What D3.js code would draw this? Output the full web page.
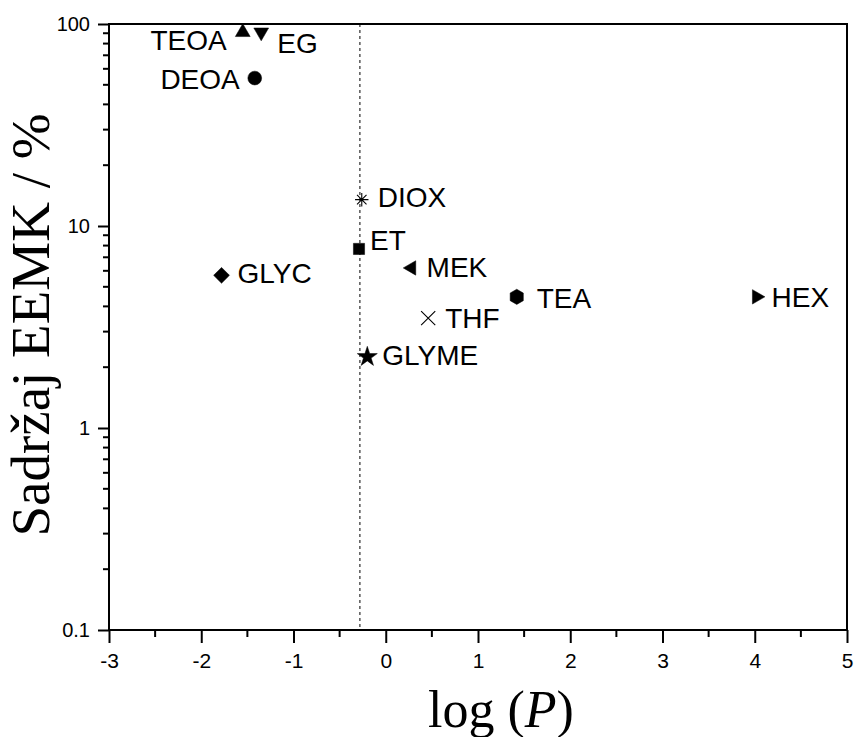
<!DOCTYPE html>
<html>
<head>
<meta charset="utf-8">
<script src="https://cdn.jsdelivr.net/npm/d3@7"></script>
<style>
  body { margin: 0; background: #fff; }
  svg { display: block; }
</style>
</head>
<body>
<svg id="svg" width="856" height="737"></svg>
<script>
// data
const solvents = ['TEOA', 'EG', 'DEOA', 'DIOX', 'ET', 'MEK', 'GLYC', 'TEA', 'HEX', 'THF', 'GLYME'];
const logP     = [-1.55, -1.35, -1.42, -0.26, -0.29, 0.28, -1.78, 1.42, 4.02, 0.46, -0.20];
const eemk     = [91, 91, 54, 13.5, 7.7, 6.2, 5.7, 4.46, 4.46, 3.5, 2.25];
const markers  = ['triUp', 'triDown', 'circle', 'asterisk', 'square', 'triLeft', 'diamond', 'hexagon', 'triRight', 'times', 'star'];
const xTicks = [-3, -2, -1, 0, 1, 2, 3, 4, 5];
const xMinor = [-2.5, -1.5, -0.5, 0.5, 1.5, 2.5, 3.5, 4.5];
const yTicks = [0.1, 1, 10, 100];
const yMinor = [0.2, 0.3, 0.4, 0.5, 0.6, 0.7, 0.8, 0.9,
                2, 3, 4, 5, 6, 7, 8, 9,
                20, 30, 40, 50, 60, 70, 80, 90];
const refLogP = -0.28;

// label placement next to each marker: dx, dy, anchor
const labelPos = [
  [-16, 18, 'end'], [16, 21, 'start'], [-15, 11, 'end'], [16, 7, 'start'],
  [11, 1, 'start'], [15, 9, 'start'], [16, 8, 'start'], [20, 11, 'start'],
  [15, 10, 'start'], [17, 10, 'start'], [15, 8, 'start']
];

var svg = d3.select('#svg');
var margin = { top: 24, right: 9, bottom: 107, left: 109 };
var width = 856, height = 737;
var innerWidth = width - margin.left - margin.right;
var innerHeight = height - margin.top - margin.bottom;

const xScale = d3.scaleLinear().domain([-3, 5]).range([0, innerWidth]);
const yScale = d3.scaleLog().domain([0.1, 100]).range([innerHeight, 0]);

const g = svg.append('g')
  .attr('transform', 'translate(' + margin.left + ',' + margin.top + ')');

// custom symbols
const hexagon = {
  draw(ctx, size) {
    const r = Math.sqrt(size / (3 * Math.sqrt(3) / 2));
    for (let i = 0; i < 6; i++) {
      const a = Math.PI / 3 * i - Math.PI / 2;
      if (i === 0) ctx.moveTo(r * Math.cos(a), r * Math.sin(a));
      else ctx.lineTo(r * Math.cos(a), r * Math.sin(a));
    }
    ctx.closePath();
  }
};
const asterisk = {
  draw(ctx, size) {
    const r = Math.sqrt(size) / 2;
    for (let i = 0; i < 4; i++) {
      const a = Math.PI / 4 * i;
      ctx.moveTo(-r * Math.cos(a), -r * Math.sin(a));
      ctx.lineTo(r * Math.cos(a), r * Math.sin(a));
    }
  }
};
const times = {
  draw(ctx, size) {
    const r = Math.sqrt(size) / 2;
    ctx.moveTo(-r, -r); ctx.lineTo(r, r);
    ctx.moveTo(r, -r); ctx.lineTo(-r, r);
  }
};

function markerShape(m) {
  switch (m) {
    case 'triUp': return { path: d3.symbol(d3.symbolTriangle, 95)(), rot: 0, fill: true };
    case 'triDown': return { path: d3.symbol(d3.symbolTriangle, 95)(), rot: 180, fill: true };
    case 'triLeft': return { path: d3.symbol(d3.symbolTriangle, 90)(), rot: -90, fill: true };
    case 'triRight': return { path: d3.symbol(d3.symbolTriangle, 90)(), rot: 90, fill: true };
    case 'circle': return { path: d3.symbol(d3.symbolCircle, 150)(), rot: 0, fill: true };
    case 'square': return { path: d3.symbol(d3.symbolSquare, 125)(), rot: 0, fill: true };
    case 'diamond': return { path: d3.symbol(d3.symbolSquare, 125)(), rot: 45, fill: true };
    case 'hexagon': return { path: d3.symbol(hexagon, 150)(), rot: 0, fill: true };
    case 'star': return { path: d3.symbol(d3.symbolStar, 125)(), rot: 0, fill: true };
    case 'asterisk': return { path: d3.symbol(asterisk, 180)(), rot: 0, fill: false };
    case 'times': return { path: d3.symbol(times, 200)(), rot: 0, fill: false };
  }
}

// dotted reference line
g.append('line')
  .attr('x1', xScale(refLogP)).attr('x2', xScale(refLogP))
  .attr('y1', 0).attr('y2', innerHeight)
  .style('stroke', '#000')
  .style('stroke-width', 1)
  .style('stroke-dasharray', '3,3');

// axes
const xAxis = d3.axisBottom(xScale).tickValues(xTicks).tickSize(13).tickPadding(10)
  .tickFormat(d => d);
const yAxis = d3.axisLeft(yScale).tickValues(yTicks).tickSize(11).tickPadding(8)
  .tickFormat(d => d >= 1 ? d3.format('d')(d) : d3.format('.1f')(d));

const gx = g.append('g').attr('transform', `translate(0,${innerHeight})`).call(xAxis);
const gy = g.append('g').call(yAxis);

g.selectAll('.domain').remove();
g.selectAll('.tick line').style('stroke', '#000').style('stroke-width', 2);
gx.selectAll('text')
  .style('font-family', '"Liberation Sans", Arial, sans-serif')
  .style('font-size', '21px')
  .style('fill', '#000');
gy.selectAll('text')
  .style('font-family', '"Liberation Sans", Arial, sans-serif')
  .style('font-size', '20px')
  .style('fill', '#000');

// minor ticks
g.selectAll('.x-minor')
  .data(xMinor)
  .join('line')
  .attr('class', 'x-minor')
  .attr('x1', d => xScale(d)).attr('x2', d => xScale(d))
  .attr('y1', innerHeight).attr('y2', innerHeight + 7)
  .style('stroke', '#000')
  .style('stroke-width', 2);

g.selectAll('.y-minor')
  .data(yMinor)
  .join('line')
  .attr('class', 'y-minor')
  .attr('x1', -6).attr('x2', 0)
  .attr('y1', d => yScale(d)).attr('y2', d => yScale(d))
  .style('stroke', '#000')
  .style('stroke-width', 2);

// frame
g.append('rect')
  .attr('x', 0).attr('y', 0)
  .attr('width', innerWidth).attr('height', innerHeight)
  .style('fill', 'none')
  .style('stroke', '#000')
  .style('stroke-width', 2);

// markers
const pts = solvents.map((s, i) => ({ name: s, x: logP[i], y: eemk[i], m: markers[i], lp: labelPos[i] }));

g.selectAll('.pt')
  .data(pts)
  .join('path')
  .attr('class', 'pt')
  .attr('d', d => markerShape(d.m).path)
  .attr('transform', d => `translate(${xScale(d.x)},${yScale(d.y)}) rotate(${markerShape(d.m).rot})`)
  .style('fill', d => markerShape(d.m).fill ? '#000' : 'none')
  .style('stroke', '#000')
  .style('stroke-width', d => markerShape(d.m).fill ? 0.5 : 1.1);

g.selectAll('.lbl')
  .data(pts)
  .join('text')
  .attr('class', 'lbl')
  .attr('x', d => xScale(d.x) + d.lp[0])
  .attr('y', d => yScale(d.y) + d.lp[1])
  .attr('text-anchor', d => d.lp[2])
  .style('font-family', '"Liberation Sans", Arial, sans-serif')
  .style('font-size', '28px')
  .style('fill', '#000')
  .text(d => d.name);

// axis titles
svg.append('text')
  .attr('x', 501)
  .attr('y', 727)
  .attr('text-anchor', 'middle')
  .style('font-family', '"Liberation Serif", "Times New Roman", serif')
  .style('font-size', '52px')
  .style('fill', '#000')
  .html('log (<tspan font-style="italic">P</tspan>)');

svg.append('text')
  .attr('transform', 'translate(49,325) rotate(-90)')
  .attr('text-anchor', 'middle')
  .style('font-family', '"Liberation Serif", "Times New Roman", serif')
  .style('font-size', '55px')
  .style('fill', '#000')
  .text('Sadržaj EEMK / %');
</script>
</body>
</html>
